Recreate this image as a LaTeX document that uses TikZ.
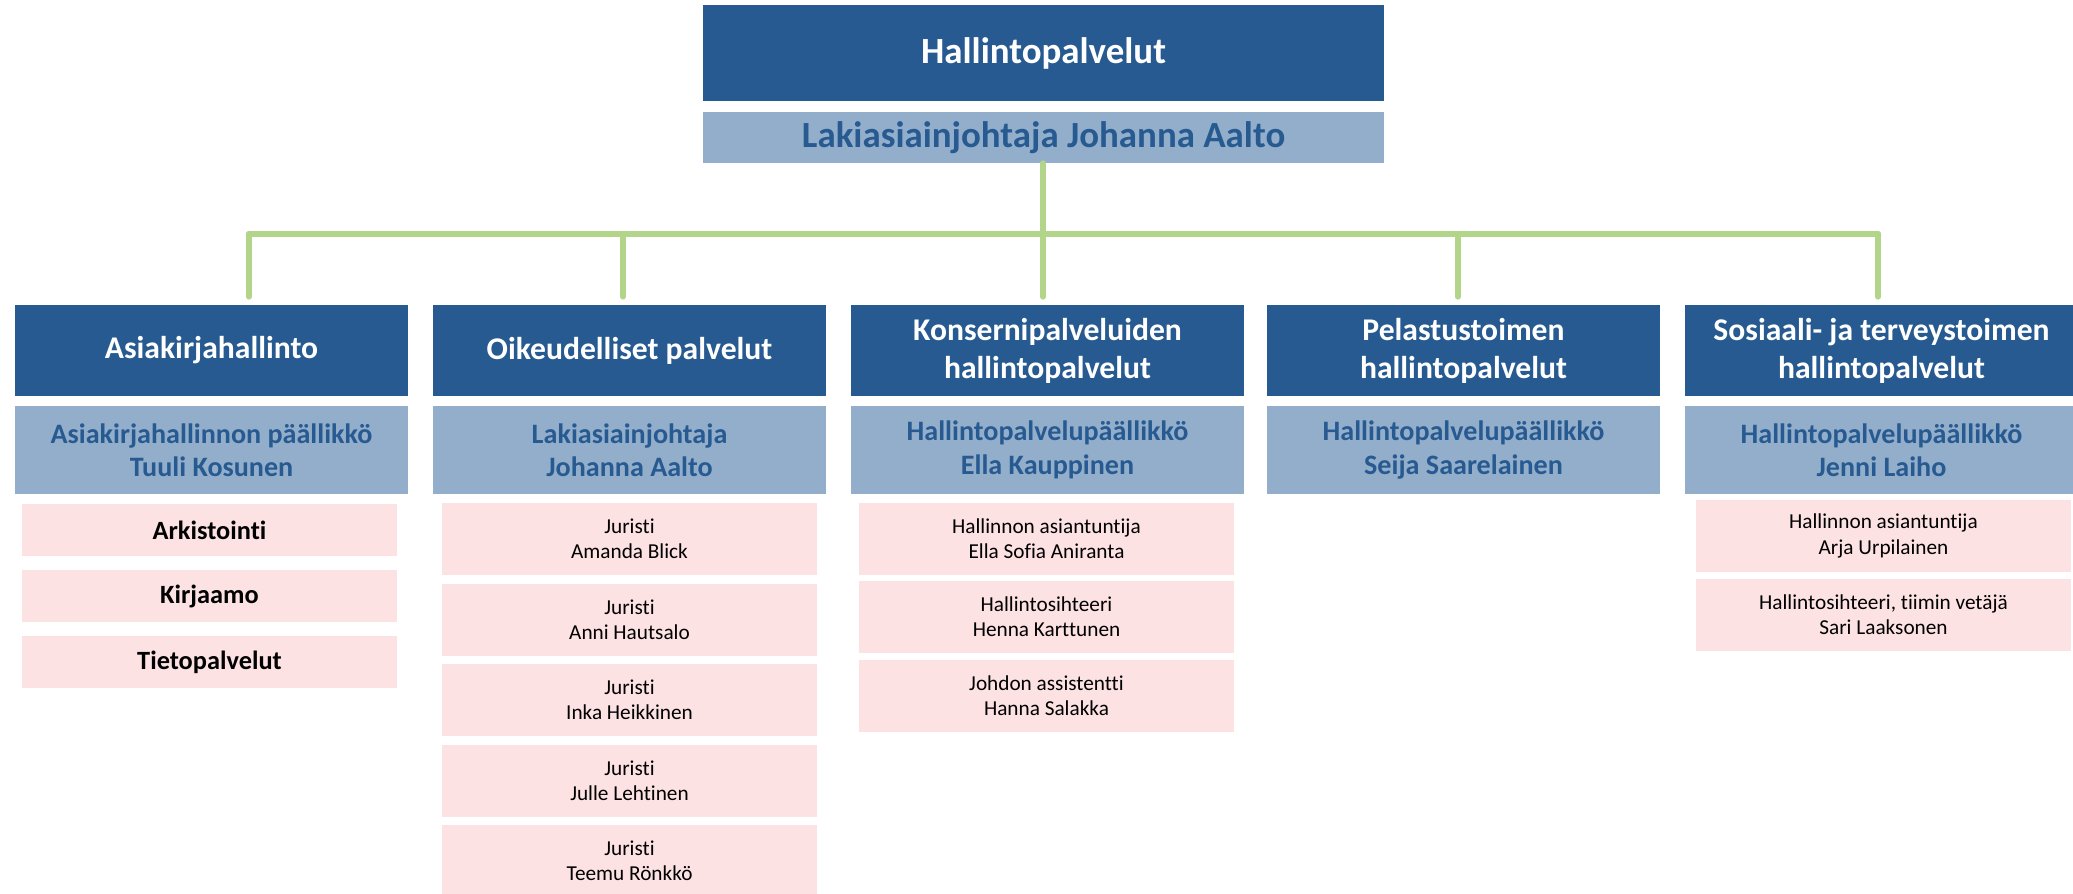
\documentclass[tikz,border=0pt]{standalone}
\usepackage{fontspec}
\setmainfont{Carlito}[Ligatures=NoCommon]
\definecolor{headblue}{HTML}{275A91}
\definecolor{leadblue}{HTML}{93AECA}
\definecolor{staffpink}{HTML}{FDE2E4}
\definecolor{busgreen}{HTML}{B3D58A}
\begin{document}
\begin{tikzpicture}[x=0.02cm,y=-0.02cm,
    unit/.style={fill=headblue,text=white,inner sep=0pt,align=center,minimum width=7.86cm,minimum height=1.82cm,font=\fontsize{18}{21.6}\selectfont\bfseries},
    chief/.style={fill=leadblue,text=headblue,inner sep=0pt,align=center,minimum width=7.86cm,minimum height=1.76cm,font=\fontsize{16}{19}\selectfont\bfseries},
    staff/.style={fill=staffpink,inner sep=0pt,align=center,minimum width=7.5cm,minimum height=1.44cm,font=\fontsize{12.1}{14.4}\selectfont},
    team/.style={staff,minimum height=1.04cm,font=\fontsize{15}{18}\selectfont\bfseries},
    bus/.style={busgreen,line width=0.12cm,line cap=round,line join=round}]
    \useasboundingbox (0,0) rectangle (2073,893);
    \node[unit,minimum width=13.62cm,minimum height=1.92cm,font=\fontsize{21}{25}\selectfont\bfseries] (top) at (1043.5,53) {Hallintopalvelut};
    \node[chief,minimum width=13.62cm,minimum height=1.02cm,font=\fontsize{21}{25}\selectfont\bfseries] (toplead) at (1043.5,137.5) {Lakiasiainjohtaja Johanna Aalto};
    \node[unit] (asia) at (211.5,350.5) {Asiakirjahallinto};
    \node[unit] (oik) at (629.5,350.5) {Oikeudelliset palvelut};
    \node[unit] (kons) at (1047.5,350.5) {Konsernipalveluiden\\hallintopalvelut};
    \node[unit] (pel) at (1463.5,350.5) {Pelastustoimen\\hallintopalvelut};
    \node[unit] (sote) at (1881.5,350.5) {Sosiaali- ja terveystoimen\\hallintopalvelut};
    \node[chief] (asialead) at (211.5,450) {Asiakirjahallinnon päällikkö\\Tuuli Kosunen};
    \node[chief] (oiklead) at (629.5,450) {Lakiasiainjohtaja\\Johanna Aalto};
    \node[chief] (konslead) at (1047.5,450) {Hallintopalvelupäällikkö\\Ella Kauppinen};
    \node[chief] (pellead) at (1463.5,450) {Hallintopalvelupäällikkö\\Seija Saarelainen};
    \node[chief] (sotelead) at (1881.5,450) {Hallintopalvelupäällikkö\\Jenni Laiho};
    \node[team] (arkisto) at (209.5,530) {Arkistointi};
    \node[team] (kirjaamo) at (209.5,596) {Kirjaamo};
    \node[team] (tieto) at (209.5,662) {Tietopalvelut};
    \node[staff] (jur1) at (629.5,539) {Juristi\\Amanda Blick};
    \node[staff] (jur2) at (629.5,619.5) {Juristi\\Anni Hautsalo};
    \node[staff] (jur3) at (629.5,700) {Juristi\\Inka Heikkinen};
    \node[staff] (jur4) at (629.5,781) {Juristi\\Julle Lehtinen};
    \node[staff] (jur5) at (629.5,861) {Juristi\\Teemu Rönkkö};
    \node[staff] (kons1) at (1046.5,539) {Hallinnon asiantuntija\\Ella Sofia Aniranta};
    \node[staff] (kons2) at (1046.5,617) {Hallintosihteeri\\Henna Karttunen};
    \node[staff] (kons3) at (1046.5,696) {Johdon assistentti\\Hanna Salakka};
    \node[staff] (sote1) at (1883.5,536) {Hallinnon asiantuntija\\Arja Urpilainen};
    \node[staff] (sote2) at (1883.5,615) {Hallintosihteeri, tiimin vetäjä\\Sari Laaksonen};
    \coordinate (d1) at (249,234);
    \coordinate (d2) at (623,234);
    \coordinate (d3) at (1043,234);
    \coordinate (d4) at (1458,234);
    \coordinate (d5) at (1878,234);
    \draw[bus] (toplead.south -| d3) -- (d3);
    \draw[bus] (d1) -- (d5);
    \foreach \d/\u in {d1/asia,d2/oik,d3/kons,d4/pel,d5/sote}
        \draw[bus,shorten >=0.16cm] (\d) -- (\d |- \u.north);
\end{tikzpicture}
\end{document}
